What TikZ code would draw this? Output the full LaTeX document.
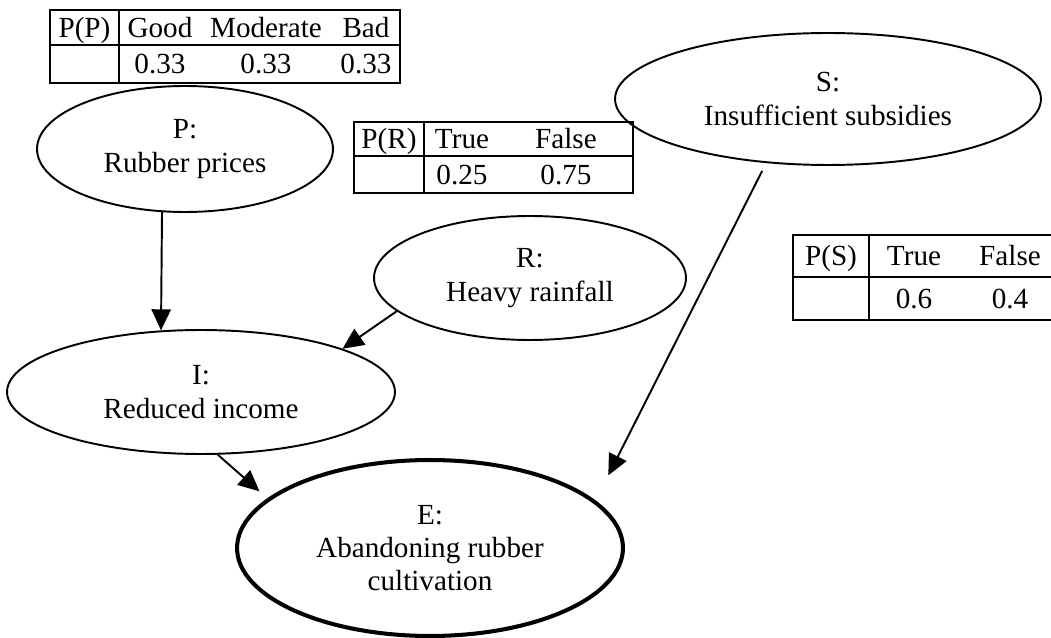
\documentclass[tikz,border=0pt]{standalone}
\usepackage{fontspec}
\setmainfont{Liberation Serif}
\usetikzlibrary{shapes.geometric,arrows.meta}

\begin{document}
\begin{tikzpicture}[x=.02cm, y=-.02cm, line width=1.1pt,
        every node/.style={font=\fontsize{16.6}{19}\selectfont},
        var/.style={draw, ellipse, inner sep=0pt, align=center},
        cell/.style={inner sep=0pt, text height=11pt, text depth=0pt},
        >={Triangle[length=12pt, width=11pt]}]
            \useasboundingbox (0,0) rectangle (1051,638);
            \clip (0,0) rectangle (1051,638);
            \node[var, minimum width=5.92cm, minimum height=2.52cm] (P) at (185,149) {P:\\Rubber prices};
            \node[var, minimum width=8.52cm, minimum height=2.64cm] (S) at (828,99) {S:\\Insufficient subsidies};
            \node[var, minimum width=6.24cm, minimum height=2.48cm] (R) at (530,278) {R:\\Heavy rainfall};
            \node[var, minimum width=7.76cm, minimum height=2.48cm] (I) at (201,392) {I:\\Reduced income};
            \node[var, line width=2.3pt, minimum width=7.72cm, minimum height=3.52cm] (E) at (430,548) {E:\\Abandoning rubber\\cultivation};
            \draw (50,10) rectangle (400,83);
            \draw (50,45) -- (400,45);
            \draw (119,10) -- (119,83);
            \node[cell] (pp) at (84.5,27.5) {P(P)};
            \foreach \x/\h/\v [count=\k] in {160/Good/0.33, 266/Moderate/0.33, 366/Bad/0.33}{
                \node[cell] (pp-h\k) at (\x,27.5) {\h};
                \node[cell] (pp-v\k) at (\x,64) {\v};
            }
            \draw (354,122) rectangle (633,193);
            \draw (354,156) -- (633,156);
            \draw (424,122) -- (424,193);
            \node[cell] (pr) at (389,139) {P(R)};
            \foreach \x/\h/\v [count=\k] in {462/True/0.25, 566/False/0.75}{
                \node[cell] (pr-h\k) at (\x,139) {\h};
                \node[cell] (pr-v\k) at (\x,174.5) {\v};
            }
            \draw (1060,235) -- (793,235) -- (793,320) -- (1060,320);
            \draw (793,277) -- (1060,277);
            \draw (869,235) -- (869,320);
            \node[cell] (ps) at (831,256) {P(S)};
            \foreach \x/\h/\v [count=\k] in {914/True/0.6, 1010/False/0.4}{
                \node[cell] (ps-h\k) at (\x,256) {\h};
                \node[cell] (ps-v\k) at (\x,298.5) {\v};
            }
            \draw[->] (P.250) -- (I.123);
            \draw[->] (R.194) -- (I.17);
            \draw[->, shorten >=6pt] (I.285) -- (E.163);
            \draw[->, shorten <=5pt, shorten >=16pt] (S.226) -- (E.16);
        \end{tikzpicture}
\end{document}
